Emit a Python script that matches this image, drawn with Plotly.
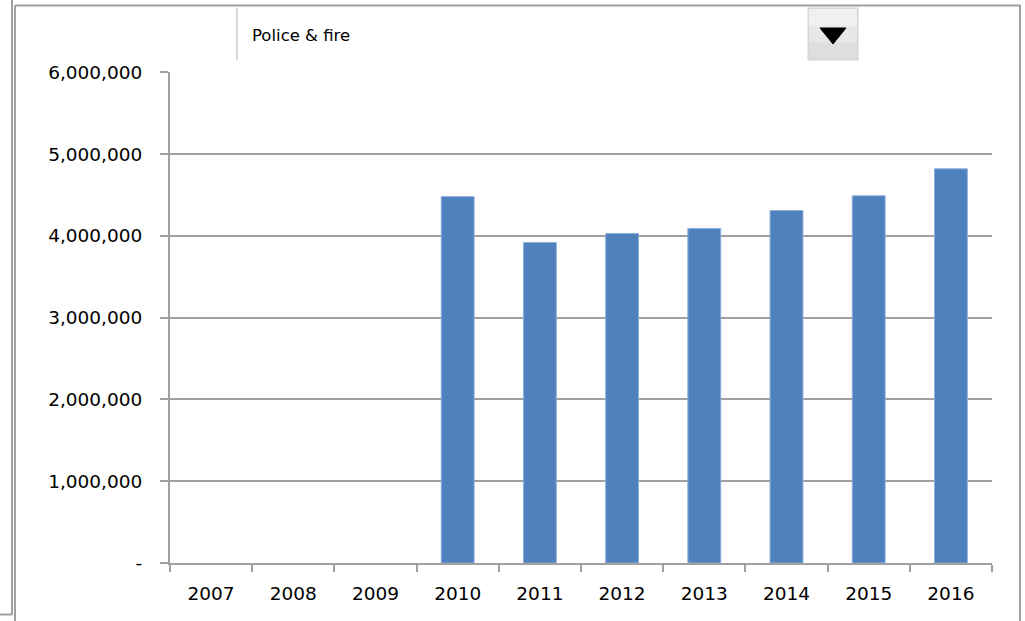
import plotly.graph_objects as go

years = ["2007", "2008", "2009", "2010", "2011", "2012", "2013", "2014", "2015", "2016"]
spending = [None, None, None, 4480000, 3920000, 4030000, 4090000, 4310000, 4490000, 4820000]
y_tick_values = [0, 1000000, 2000000, 3000000, 4000000, 5000000, 6000000]
y_tick_labels = ["-", "1,000,000", "2,000,000", "3,000,000", "4,000,000", "5,000,000", "6,000,000"]
selected_category = "Police & fire"

W, H = 1025, 621
L, R, T, B = 170, 992, 72, 563

def px(x):
    return (x - L) / (R - L)

def py(y):
    return (B - y) / (B - T)

FONT = "DejaVu Sans"
GRAY = "#a0a0a0"

fig = go.Figure()
fig.add_trace(go.Bar(
    x=years, y=spending,
    width=0.4,
    marker=dict(color="#4f81bd", line=dict(color="#8eaedb", width=1)),
    hoverinfo="x+y",
))

shapes = []
def line(x0, y0, x1, y1, color=GRAY, w=2):
    shapes.append(dict(type="line", xref="paper", yref="paper",
                       x0=px(x0), y0=py(y0), x1=px(x1), y1=py(y1),
                       line=dict(color=color, width=w), layer="above"))

# outer frame
line(12, 0, 12, 615)
line(0, 614.5, 12, 614.5)
line(15, 5.5, 15, 621)
line(15, 5.5, 1021, 5.5)
line(1020, 5.5, 1020, 621)
# dropdown box left edge
line(237, 8, 237, 60, color="#b0b0b0", w=1)
# dropdown button (two-tone to suggest the gradient)
shapes.append(dict(type="rect", xref="paper", yref="paper",
                   x0=px(808), x1=px(858), y0=py(8), y1=py(60),
                   fillcolor="#dedede", line=dict(color="#cfcfcf", width=1), layer="above"))
shapes.append(dict(type="rect", xref="paper", yref="paper",
                   x0=px(809), x1=px(857), y0=py(9), y1=py(26),
                   fillcolor="#f0f0f0", line=dict(width=0), layer="above"))
shapes.append(dict(type="rect", xref="paper", yref="paper",
                   x0=px(809), x1=px(857), y0=py(26), y1=py(42),
                   fillcolor="#e7e7e7", line=dict(width=0), layer="above"))
tx0, tx1, ty0, ty1 = px(820), px(846), py(28), py(44)
shapes.append(dict(type="path", xref="paper", yref="paper",
                   path=f"M {tx0} {ty0} L {tx1} {ty0} L {(tx0+tx1)/2} {ty1} Z",
                   fillcolor="#000000", line=dict(color="#000000", width=1), layer="above"))

fig.update_layout(
    width=W, height=H,
    margin=dict(l=L, r=W - R, t=T, b=H - B, pad=0),
    paper_bgcolor="white", plot_bgcolor="white",
    showlegend=False,
    bargap=0.6,
    font=dict(family=FONT, size=18.5, color="#000000"),
    shapes=shapes,
    annotations=[dict(text=selected_category, xref="paper", yref="paper",
                      x=px(250), y=py(36), xanchor="left", yanchor="middle",
                      showarrow=False, font=dict(family=FONT, size=16.5, color="#000000"))],
    xaxis=dict(
        type="category", range=[-0.5, 9.5],
        tickson="boundaries", ticks="outside", ticklen=7, tickwidth=2, tickcolor=GRAY,
        showline=True, linecolor=GRAY, linewidth=2,
        showgrid=False, zeroline=False,
        tickfont=dict(family=FONT, size=18.5, color="#000000"),
        ticklabelstandoff=13,
    ),
    yaxis=dict(
        range=[0, 6004000],
        tickvals=y_tick_values, ticktext=y_tick_labels,
        ticks="outside", ticklen=8, tickwidth=2, tickcolor=GRAY,
        showline=True, linecolor=GRAY, linewidth=2,
        showgrid=True, gridcolor=GRAY, gridwidth=2,
        zeroline=False,
        tickfont=dict(family=FONT, size=18.5, color="#000000"),
        ticklabelstandoff=14,
    ),
)

fig.write_html("out.html", config={"displayModeBar": False},
               post_script="document.body.style.margin='0';document.body.style.overflow='hidden';")
